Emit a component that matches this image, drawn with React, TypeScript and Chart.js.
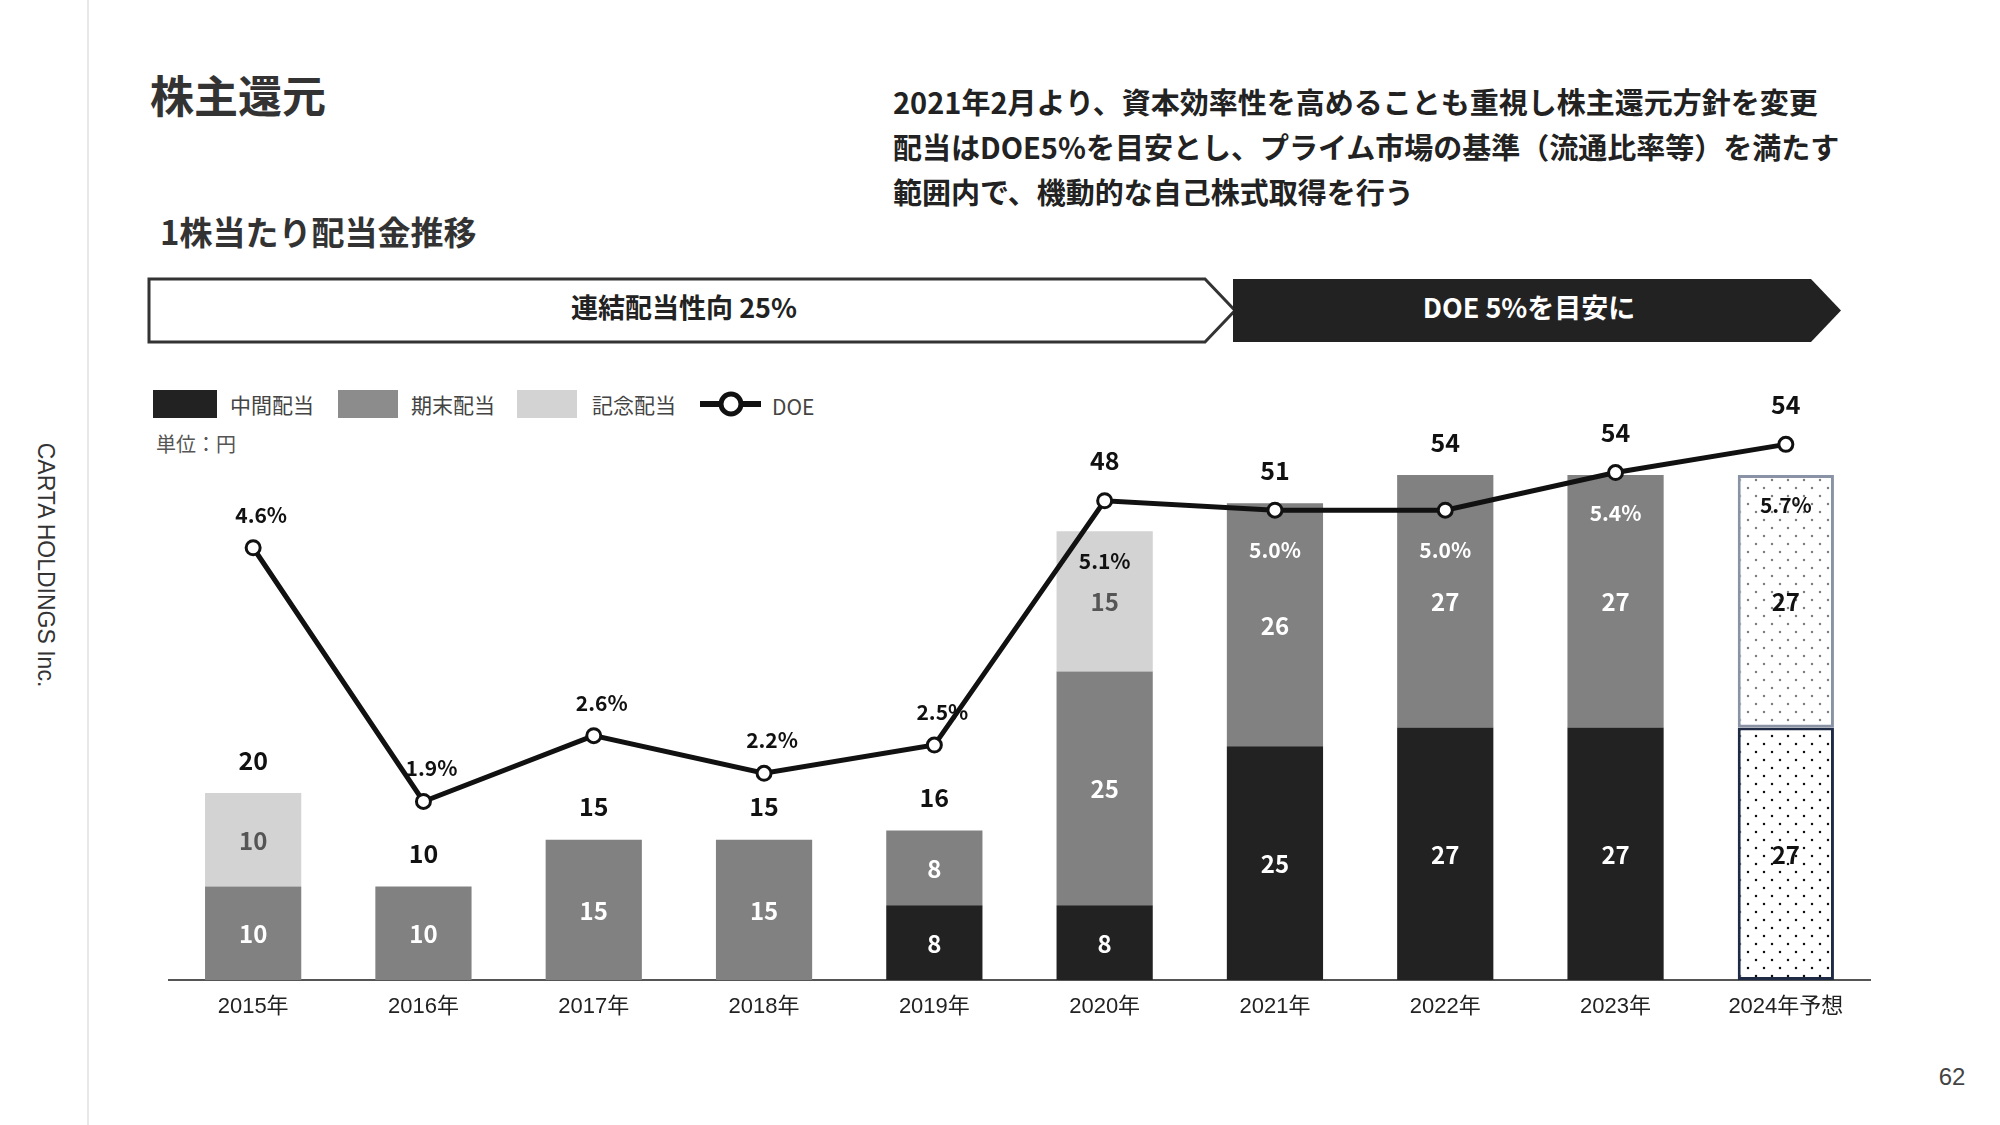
import React, { useEffect, useRef } from "react";
import { Chart, registerables } from "chart.js";

Chart.register(...registerables);

// ---------- data ----------
const categories = ["2015年", "2016年", "2017年", "2018年", "2019年", "2020年", "2021年", "2022年", "2023年", "2024年予想"];
const interimDividend = [0, 0, 0, 0, 8, 8, 25, 27, 27, 27];
const yearEndDividend = [10, 10, 15, 15, 8, 25, 26, 27, 27, 27];
const commemorativeDividend = [10, 0, 0, 0, 0, 15, 0, 0, 0, 0];
const doeRate = [4.6, 1.9, 2.6, 2.2, 2.5, 5.1, 5.0, 5.0, 5.4, 5.7];
const seriesNames = ["中間配当", "期末配当", "記念配当", "DOE"];

// ---------- style ----------
const JP = '"Noto Sans CJK JP", "Noto Sans", sans-serif';
const LAT = '"Liberation Sans", "Noto Sans CJK JP", sans-serif';
const DARK = "#222222";
const GRAY = "#818181";
const LIGHT = "#d3d3d3";
const segColors = [DARK, GRAY, LIGHT];
const segTextColors = ["#ffffff", "#ffffff", "#555555"];
const forecastBorders = ["#1f2a44", "#8a92a6", "#8a92a6"];
const forecastDots = ["#111111", "#808080", "#808080"];

const isForecast = (i: number) => categories[i].includes("予想");

function makePattern(ctx: CanvasRenderingContext2D, dot: string) {
  const c = document.createElement("canvas");
  c.width = 16;
  c.height = 16;
  const p = c.getContext("2d")!;
  p.fillStyle = "#ffffff";
  p.fillRect(0, 0, 16, 16);
  p.fillStyle = dot;
  [
    [4, 4],
    [12, 12],
  ].forEach(([x, y]) => {
    p.beginPath();
    p.arc(x, y, 1.25, 0, Math.PI * 2);
    p.fill();
  });
  return ctx.createPattern(c, "repeat")!;
}

const labelPlugin = {
  id: "valueLabels",
  afterDatasetsDraw(chart: any) {
    const ctx: CanvasRenderingContext2D = chart.ctx;
    const ys = chart.scales.y;
    const series = [interimDividend, yearEndDividend, commemorativeDividend];
    ctx.save();
    ctx.textAlign = "center";
    ctx.textBaseline = "middle";
    // segment labels
    series.forEach((arr, di) => {
      const meta = chart.getDatasetMeta(di);
      meta.data.forEach((el: any, i: number) => {
        const v = arr[i];
        if (!v) return;
        const { x, y, base } = el.getProps(["x", "y", "base"], true);
        ctx.fillStyle = isForecast(i) ? "#111111" : segTextColors[di];
        ctx.font = `bold 24px ${JP}`;
        ctx.fillText(String(v), x, (y + base) / 2 + 1);
      });
    });
    // totals and DOE labels
    const lineMeta = chart.getDatasetMeta(3);
    categories.forEach((_, i) => {
      const total = interimDividend[i] + yearEndDividend[i] + commemorativeDividend[i];
      const barTop = ys.getPixelForValue(total);
      const pt = lineMeta.data[i];
      const x = pt.x;
      const py = pt.y;
      const doeAnchor = py <= barTop + 1 && barTop - py < 51;
      const ty = doeAnchor ? py - 40 : barTop - 33;
      ctx.fillStyle = "#111111";
      ctx.font = `bold 25px ${JP}`;
      ctx.fillText(String(total), x, ty);

      let ly: number;
      let lx = x;
      let color = "#111111";
      if (py < barTop - 51) {
        ly = py - 33;
        lx = x + 8;
      } else {
        ly = Math.max(py + 40, barTop + 30);
        let topDs = 0;
        series.forEach((arr, di) => {
          if (arr[i] > 0) topDs = di;
        });
        color = isForecast(i) ? "#111111" : topDs === 2 ? "#111111" : "#ffffff";
      }
      ctx.fillStyle = color;
      ctx.font = `bold 21px ${JP}`;
      ctx.fillText(doeRate[i].toFixed(1) + "%", lx, ly);
    });
    ctx.restore();
  },
};

function DividendChart() {
  const ref = useRef<HTMLCanvasElement | null>(null);
  useEffect(() => {
    const canvas = ref.current!;
    const ctx = canvas.getContext("2d")!;
    const patterns = forecastDots.map((d) => makePattern(ctx, d));
    const seriesData = [interimDividend, yearEndDividend, commemorativeDividend];
    const barSets = seriesData.map((arr, di) => ({
      type: "bar" as const,
      label: seriesNames[di],
      data: arr,
      yAxisID: "y",
      stack: "yen",
      order: 2,
      backgroundColor: (c: any) => (isForecast(c.dataIndex) ? patterns[di] : segColors[di]),
      borderColor: (c: any) => (isForecast(c.dataIndex) ? forecastBorders[di] : segColors[di]),
      borderWidth: (c: any) => (isForecast(c.dataIndex) && arr[c.dataIndex] > 0 ? 3 : 0),
      borderSkipped: false,
      categoryPercentage: 1,
      barPercentage: 0.565,
    }));
    const chart = new Chart(canvas, {
      type: "bar",
      data: {
        labels: categories,
        datasets: [
          ...barSets,
          {
            type: "line" as const,
            label: seriesNames[3],
            data: doeRate,
            yAxisID: "y2",
            order: 0,
            borderColor: "#111111",
            borderWidth: 5,
            pointRadius: 7,
            pointBorderWidth: 3,
            pointBackgroundColor: "#ffffff",
            pointBorderColor: "#111111",
            tension: 0,
            clip: false,
          } as any,
        ],
      },
      options: {
        animation: false,
        responsive: false,
        devicePixelRatio: 1,
        layout: { autoPadding: false, padding: { top: 39, left: 0, right: 0, bottom: 0 } },
        plugins: { legend: { display: false }, tooltip: { enabled: false } },
        scales: {
          x: {
            stacked: true,
            grid: { display: false, drawTicks: false },
            border: { display: true, color: "#555555", width: 2 },
            ticks: { color: "#222222", font: { family: LAT, size: 22 }, padding: 14, maxRotation: 0 },
            afterFit: (s: any) => {
              s.height = 60;
              s.paddingLeft = 0;
              s.paddingRight = 0;
            },
          },
          y: { stacked: true, display: false, min: 0, max: 60 },
          y2: { display: false, min: 0, max: 5.97, position: "right" },
        },
      },
      plugins: [labelPlugin],
    });
    return () => chart.destroy();
  }, []);
  return (
    <canvas
      ref={ref}
      width={1703}
      height={660}
      style={{ position: "absolute", left: 168, top: 380, width: 1703, height: 660 }}
    />
  );
}

const txt = (left: number, cy: number, size: number, extra: React.CSSProperties = {}): React.CSSProperties => ({
  position: "absolute",
  left,
  top: cy - size / 2,
  fontSize: size,
  lineHeight: `${size}px`,
  fontFamily: JP,
  whiteSpace: "nowrap",
  ...extra,
});

export default function App() {
  return (
    <div style={{ position: "absolute", left: 0, top: 0, width: 2000, height: 1125, background: "#ffffff", overflow: "hidden" }}>
      <div style={{ position: "absolute", left: 87, top: 0, width: 2, height: 1125, background: "#e8e8e8" }} />
      <div
        style={{
          position: "absolute",
          left: 45,
          top: 565,
          transform: "translate(-50%, -50%) rotate(90deg)",
          fontFamily: LAT,
          fontSize: 23,
          color: "#333333",
          whiteSpace: "nowrap",
        }}
      >
        CARTA HOLDINGS Inc.
      </div>

      <div style={txt(150, 94, 44, { fontWeight: 700, color: "#333333" })}>株主還元</div>

      <div style={{ position: "absolute", left: 893, top: 79, fontFamily: JP, fontSize: 29, lineHeight: "45px", fontWeight: 700, color: "#222222", whiteSpace: "nowrap" }}>
        <div>2021年2月より、資本効率性を高めることも重視し株主還元方針を変更</div>
        <div>配当はDOE5%を目安とし、プライム市場の基準（流通比率等）を満たす</div>
        <div>範囲内で、機動的な自己株式取得を行う</div>
      </div>

      <div style={txt(160, 231, 33, { fontWeight: 700, color: "#333333" })}>1株当たり配当金推移</div>

      <svg width={2000} height={1125} style={{ position: "absolute", left: 0, top: 0 }}>
        <polygon points="149,279 1205,279 1235,310.5 1205,342 149,342" fill="#ffffff" stroke="#333333" strokeWidth={3} />
        <polygon points="1233,279 1811,279 1841,310.5 1811,342 1233,342" fill="#222222" />
        <text x={684} y={311} textAnchor="middle" dominantBaseline="middle" fontFamily={JP} fontSize={27} fontWeight={700} fill="#222222">
          連結配当性向 25%
        </text>
        <text x={1529} y={311} textAnchor="middle" dominantBaseline="middle" fontFamily={JP} fontSize={27} fontWeight={700} fill="#ffffff">
          DOE 5%を目安に
        </text>
        <rect x={153} y={390} width={64} height={28} fill={DARK} />
        <rect x={338} y={390} width={60} height={28} fill="#8c8c8c" />
        <rect x={517} y={390} width={60} height={28} fill={LIGHT} />
        <line x1={700} y1={404} x2={761} y2={404} stroke="#111111" strokeWidth={6} />
        <circle cx={731} cy={404} r={10} fill="#ffffff" stroke="#111111" strokeWidth={5} />
        <text x={1952} y={1079} textAnchor="middle" dominantBaseline="middle" fontFamily={LAT} fontSize={24} fill="#444444">
          62
        </text>
      </svg>

      <div style={txt(230, 404, 21, { color: "#444444" })}>{seriesNames[0]}</div>
      <div style={txt(411, 404, 21, { color: "#444444" })}>{seriesNames[1]}</div>
      <div style={txt(592, 404, 21, { color: "#444444" })}>{seriesNames[2]}</div>
      <div style={txt(772, 406, 21, { color: "#444444" })}>{seriesNames[3]}</div>
      <div style={txt(156, 444, 20, { color: "#555555" })}>単位：円</div>

      <DividendChart />
    </div>
  );
}
